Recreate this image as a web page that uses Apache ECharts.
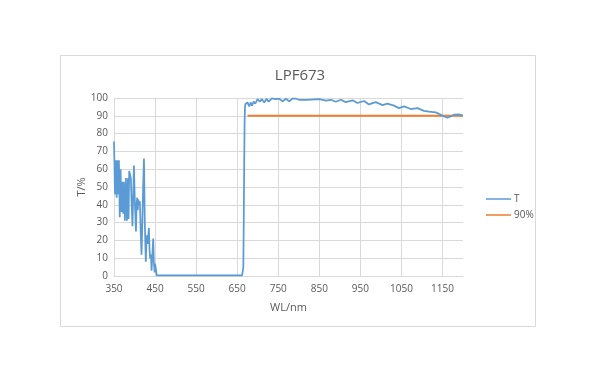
<!DOCTYPE html>
<html>
<head>
<meta charset="utf-8">
<script src="https://cdn.jsdelivr.net/npm/echarts@6/dist/echarts.min.js"></script>
<style>html,body{margin:0;padding:0;background:#fff}#c{width:600px;height:383px}</style>
</head>
<body>
<div id="c"></div>
<script>
const titleText = "LPF673";
const xName = "WL/nm";
const yName = "T/%";
const seriesNames = ["T", "90%"];
const wl = [350,352.4,354,356.5,358,360.5,362,364,366,368.5,370,372.5,374,376.5,379,381.5,384,385.5,387,389,391,393,395,398.5,401,403.5,405,406.5,408,409,411,413,415,417,419,421,423,425,427.5,429,431,432,433.5,435,436.5,438,440,441.5,443,445.5,447,449,450,452,454,456,500,550,600,650,662,664,665,666,667,668,669,670,671,675,679.4,682.7,686,690,694,699.7,705.4,710,716,721.6,726.5,734.6,744,752.4,760.5,768.7,776.8,785,793,801,820,850,866,878,890,902.5,914.6,931,943,959,971,987.6,1004,1016,1032,1044,1056.6,1072.8,1089,1105,1117,1133.6,1141.7,1154,1162,1170,1178,1190,1198,1200];
const tVals = [75.6,46,65,44,65,46,65,33,60,36,53,35,53,31,55,31,55,32,59,57,55,40,28,62,40,25,40,44,37,43,40,42,25,12,30,50,66,30,8,20,23,18,18,27,15,10,12,3,10,21,8,2,7,4,0.3,0.3,0.3,0.3,0.3,0.3,0.3,0.6,5,30,60,85,95,96.5,96.2,97.5,95.3,97.5,95.7,98,96.8,99.4,97.9,99.4,97.5,99.6,97.9,99.8,99.4,99.6,98.1,99.6,98.1,99.8,99.6,99,99,99.4,98.5,99,97.9,99,97.7,98.7,97.2,98.3,96.4,97.7,96,96.8,95.7,94.3,95.3,93.8,94.3,92.8,92.3,91.9,91.1,89.6,88.9,89.6,90.6,90.8,90.2,90.1];
const refWl = [675, 1200];
const refVals = [90, 90];
const xTicks = [350,450,550,650,750,850,950,1050,1150];
const yTicks = [0,10,20,30,40,50,60,70,80,90,100];

const chart = echarts.init(document.getElementById('c'), null, {renderer:'canvas'});
const txt = '#595959', grid = '#d9d9d9', ff = '"Open Sans", "Noto Sans", sans-serif';
chart.setOption({
  animation:false,
  graphic:[{type:'rect', shape:{x:60.5,y:55.5,width:475,height:271}, style:{fill:'none', stroke:grid, lineWidth:1}, silent:true}],
  title:{text:titleText, left:'center', top:63, textStyle:{color:txt, fontSize:15, fontWeight:'normal', fontFamily:ff}},
  grid:{left:114, right:137, top:98, bottom:107, containLabel:false},
  legend:{orient:'vertical', left:481, top:189, itemWidth:25, itemHeight:10, itemGap:6,
    data:seriesNames.map(n=>({name:n, icon:'path://M0,4.5 L25,4.5 L25,6 L0,6 Z'})),
    textStyle:{color:txt, fontSize:10, fontFamily:ff, padding:[0,0,0,-2]}},
  xAxis:{type:'value', min:xTicks[0], max:1200, interval:100, name:xName, nameLocation:'middle', nameGap:26, nameMoveOverlap:false,
    nameTextStyle:{color:txt, fontSize:11, fontFamily:ff},
    axisLine:{show:true, lineStyle:{color:grid}}, axisTick:{show:false},
    axisLabel:{color:txt, fontSize:10, fontFamily:ff, showMaxLabel:false, margin:8, formatter:v=>String(v)},
    splitLine:{show:true, showMaxLine:false, lineStyle:{color:grid}}},
  yAxis:{type:'value', min:yTicks[0], max:yTicks[yTicks.length-1], interval:10, name:yName, nameLocation:'middle', nameGap:27, nameRotate:90, nameMoveOverlap:false,
    nameTextStyle:{color:txt, fontSize:11, fontFamily:ff},
    axisLine:{show:false}, axisTick:{show:false},
    axisLabel:{color:txt, fontSize:10, fontFamily:ff, margin:6, formatter:v=>String(v)},
    splitLine:{show:true, lineStyle:{color:grid}}},
  series:[
    {name:seriesNames[0], type:'line', symbol:'none', data:wl.map((x,i)=>[x,tVals[i]]), lineStyle:{color:'#5B9BD5', width:1.75}, itemStyle:{color:'#5B9BD5'}, z:3},
    {name:seriesNames[1], type:'line', symbol:'none', data:refWl.map((x,i)=>[x,refVals[i]]), lineStyle:{color:'#ED7D31', width:2}, itemStyle:{color:'#ED7D31'}, z:2}
  ]
});
</script>
</body>
</html>
